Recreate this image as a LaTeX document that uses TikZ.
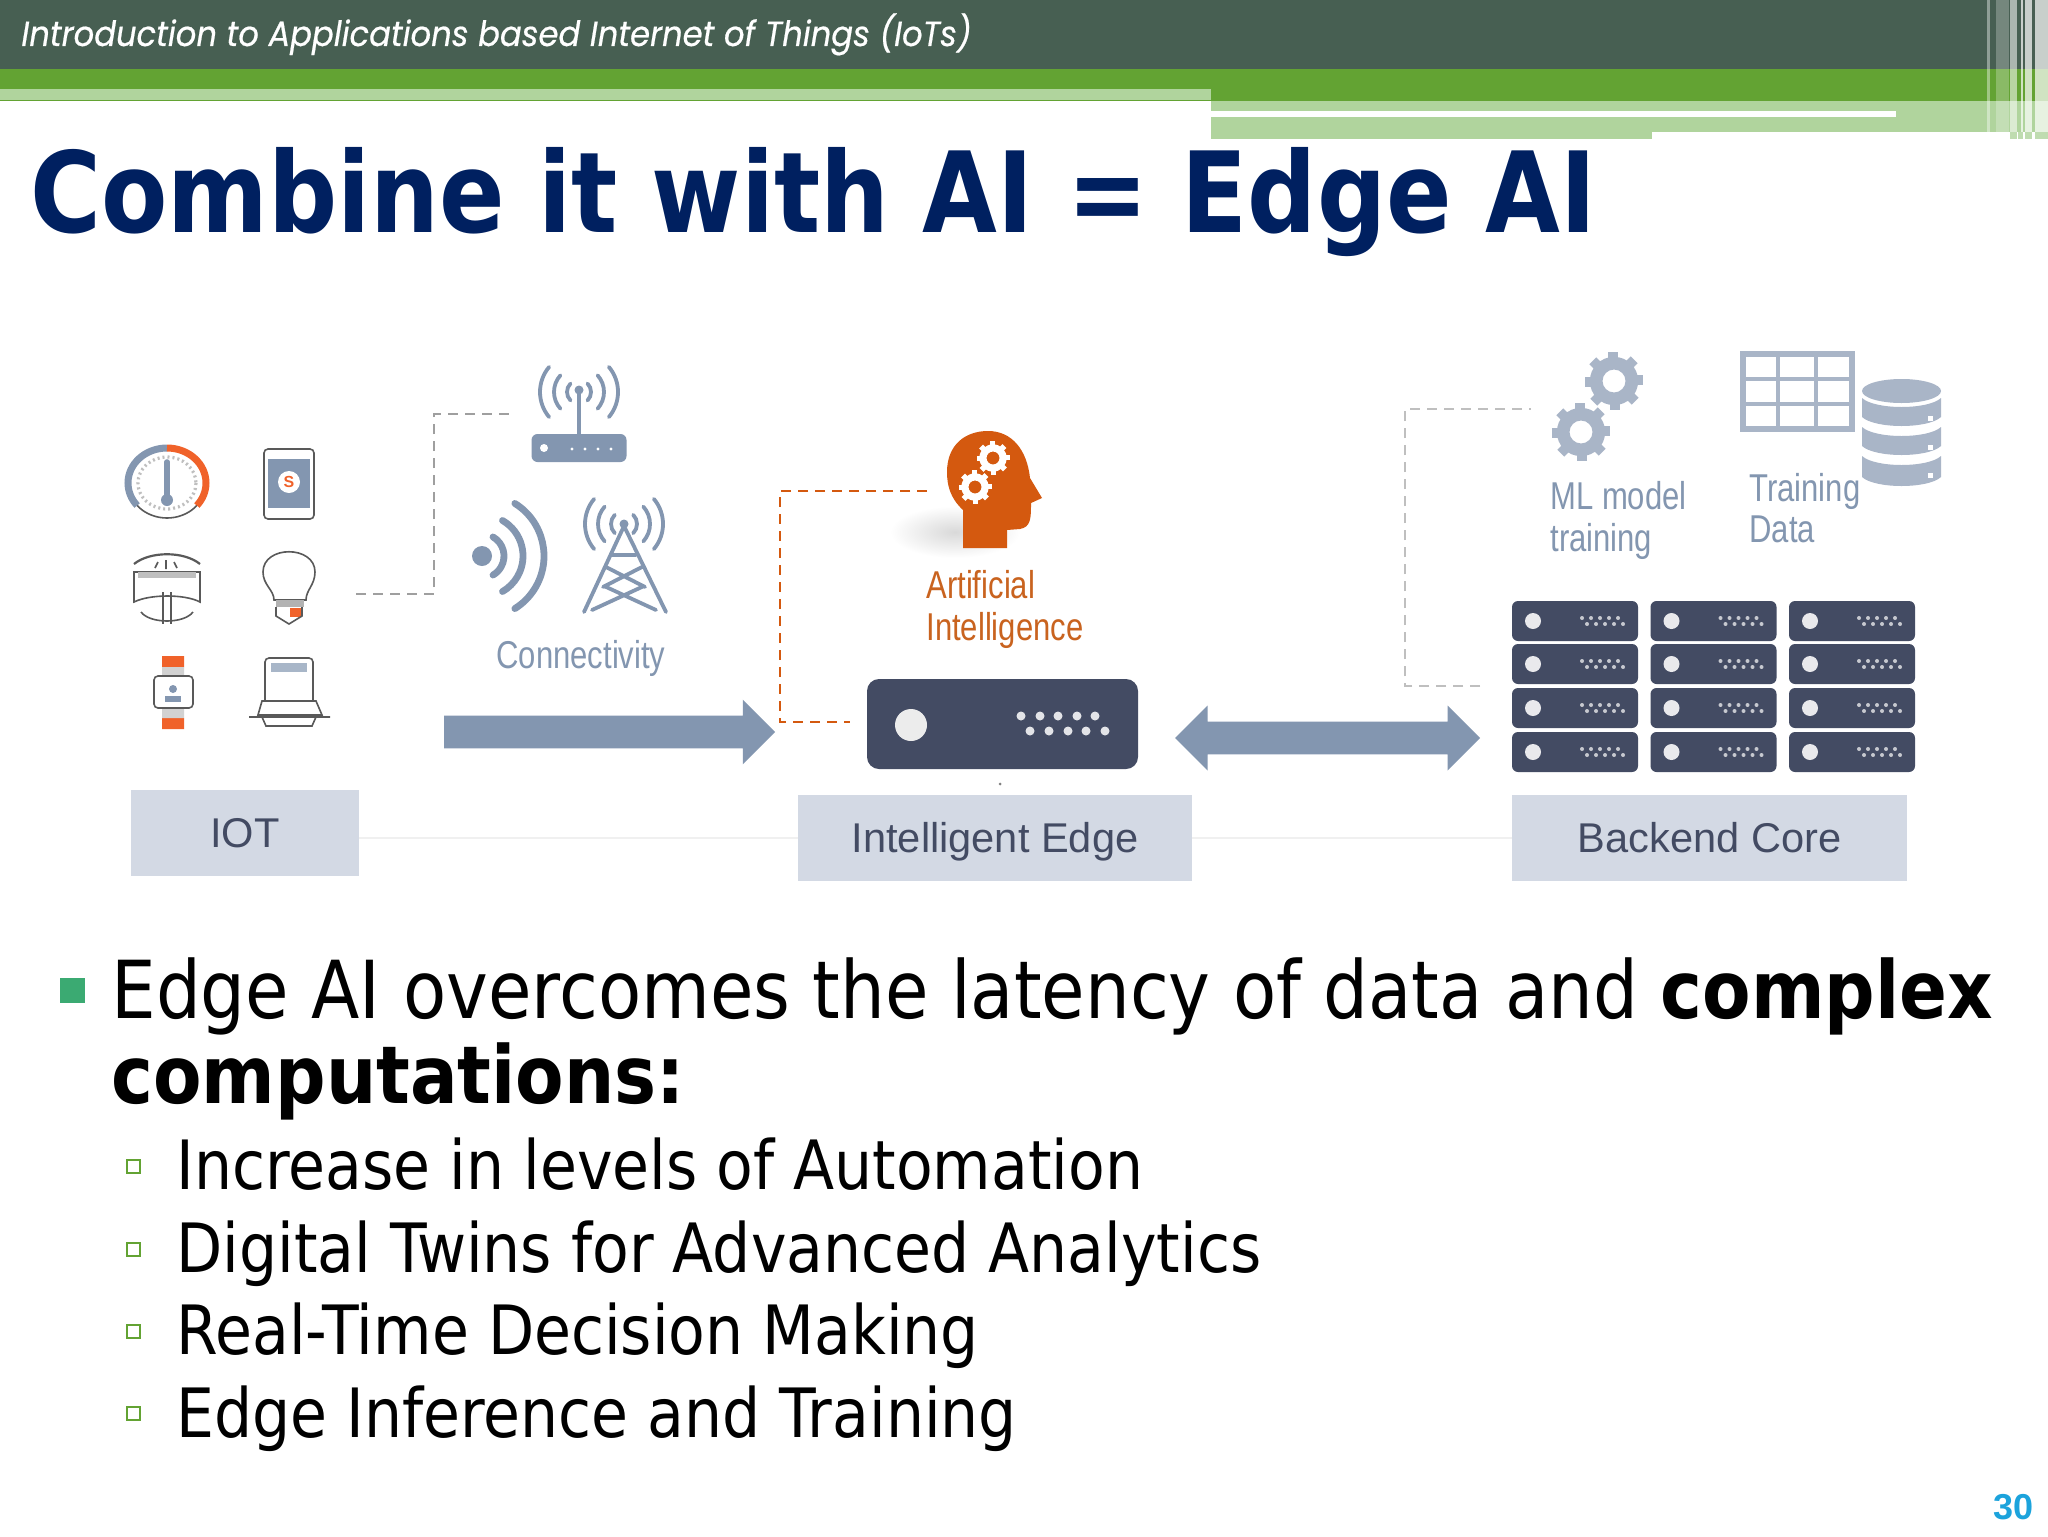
\documentclass[tikz,border=0pt]{standalone}
\usepackage{fontspec}
\setmainfont{Liberation Sans}
\newfontfamily\bodyfont{DejaVu Sans}[FakeStretch=0.883]
\newfontfamily\titlefont{DejaVu Sans}[FakeStretch=0.863]
\newfontfamily\headfont{Poppins}[FakeStretch=0.92,FakeBold=0.5]
\newfontfamily\narrowfont{Liberation Sans}[FakeStretch=0.8]
\usetikzlibrary{positioning, arrows.meta, shapes.arrows}

\definecolor{headdark}{HTML}{475F52}
\definecolor{headgreen}{HTML}{63A333}
\definecolor{headlight}{HTML}{B0D49D}
\definecolor{titleblue}{HTML}{002060}
\definecolor{steel}{HTML}{8396B0}
\definecolor{steellight}{HTML}{A9B5C7}
\definecolor{labelfill}{HTML}{D3D9E4}
\definecolor{slate}{HTML}{434B63}
\definecolor{aiorange}{HTML}{D4590F}
\definecolor{ailabeltext}{HTML}{C9631F}
\definecolor{devorange}{HTML}{F0622A}
\definecolor{bulletgreen}{HTML}{3BAA72}
\definecolor{pageblue}{HTML}{1CA3DC}

\tikzset{
  labelbox/.style={fill=labelfill, draw=none, minimum height=43pt, inner sep=0pt,
    text height=16.5pt, text depth=2pt, text=slate, font=\fontsize{20.8}{20.8}\selectfont},
  dashgrey/.style={draw=gray!75, line width=1pt, dash pattern=on 5pt off 3.5pt},
  dashorange/.style={draw=aiorange, line width=1pt, dash pattern=on 5pt off 3.5pt},
  iconline/.style={draw=steel, line width=1.9pt, line cap=round},
  devline/.style={draw=gray!70!black, line width=0.8pt},
  capsteel/.style={text=steel, font=\narrowfont\fontsize{19.4}{19.4}\selectfont, inner sep=0pt, anchor=base west},
  bigarrow/.style={fill=steel, draw=none, inner xsep=0pt, inner ysep=8pt, anchor=center,
    single arrow head extend=8pt, double arrow head extend=8pt},
  rackunit/.style={fill=slate, draw=none, rounded corners=3pt, minimum width=63pt, minimum height=20pt, inner sep=0pt},
  mainitem/.style={anchor=base west, inner sep=0pt, font=\bodyfont\fontsize{40}{40}\selectfont},
  subitem/.style={anchor=base west, inner sep=0pt, font=\bodyfont\fontsize{34}{34}\selectfont},
  subbullet/.style={draw=headgreen, line width=1pt, minimum size=6.5pt, inner sep=0pt},
}

\newcommand{\cogicon}[4]{% x, y, radius, colour
  \foreach \a in {0,45,...,315}
    \fill[#4] (#1,#2) ++(\a-14:#3) -- ++(\a:#3*0.30) -- ++(\a+90:#3*0.42) -- ++(\a+180:#3*0.30) -- cycle;
  \fill[#4,even odd rule] (#1,#2) circle[radius=#3*1.05] (#1,#2) circle[radius=#3*0.5];
}

\begin{document}
\begin{tikzpicture}[x=0.5pt,y=-0.5pt]
\useasboundingbox (0,0) rectangle (2048,1536);
\fill[white] (0,0) rectangle (2048,1536);

% header
\fill[headdark] (0,0) rectangle (2048,69);
\fill[headgreen] (0,69) rectangle (2048,101);
\fill[headlight] (0,89) rectangle (1211,100);
\fill[headlight] (1211,101) rectangle (2048,132);
\fill[headlight] (1211,132) rectangle (1652,139);
\fill[white] (1211,111) rectangle (1896,117);
\foreach \x/\w/\o in {1987/3/0.4,1996/13/0.25,2010/7/0.55,2021/2/0.7,2025/7/0.7,2035/13/0.7}
  \fill[white,opacity=\o] (\x,0) rectangle ++(\w,132);
\foreach \x/\w in {2010/7,2018/3,2021/2,2025/7,2035/13}
  \fill[headlight,opacity=0.8] (\x,132) rectangle ++(\w,7);

\node[anchor=base west, text=white, inner sep=0pt, font=\headfont\itshape\fontsize{17.5}{17.5}\selectfont] (coursetitle) at (21,46)
  {Introduction to Applications based Internet of Things (IoTs)};
\node[anchor=base west, text=titleblue, inner sep=0pt, font=\titlefont\bfseries\fontsize{56}{56}\selectfont] (slidetitle) at (30,232)
  {Combine it with AI = Edge AI};

% iot devices
\draw[devline] (167,483) ellipse[x radius=39, y radius=35];
\draw[gray!50, line width=1.6pt, dash pattern=on 1pt off 1.5pt] (167,483) ellipse[x radius=29, y radius=26];
\draw[steel,line width=3.5pt] (167,448) arc[start angle=-90,end angle=-220,x radius=39,y radius=35];
\draw[devorange,line width=3.5pt] (167,448) arc[start angle=-90,end angle=40,x radius=39,y radius=35];
\draw[steel,line width=2.8pt,line cap=round] (167,462) -- (167,498);
\fill[steel] (167,500) circle[radius=6];
\node[draw=gray!70!black, line width=0.8pt, fill=white, rounded corners=2pt, minimum width=25pt, minimum height=35pt, inner sep=0pt] (phone) at (289,484) {};
\fill[steel] (268,459) rectangle (310,508);
\node[fill=white, circle, minimum size=11pt, inner sep=0pt, text=devorange, font=\bfseries\fontsize{8}{8}\selectfont] (phonecoin) at (289,482) {S};

\draw[devline] (134,572) -- (200,572) -- (200,602) .. controls (185,594) and (150,594) .. (134,602) -- cycle;
\draw[devline, line width=1.1pt] (134,564) .. controls (150,551) and (184,551) .. (200,564);
\draw[devline] (155,568) -- (158,562) (166,569) -- (166,560) (177,568) -- (174,562);
\fill[gray!50] (138,572) rectangle (196,578);
\draw[devline] (163,592) -- (163,624) (171,592) -- (171,624);
\draw[devline] (141,612) .. controls (150,624) and (184,624) .. (193,612);

\draw[devline] (274,600) .. controls (274,590) and (263,585) .. (263,572)
  .. controls (263,545) and (315,545) .. (315,572)
  .. controls (315,585) and (306,590) .. (306,600) -- cycle;
\fill[gray!60] (276,600) rectangle (304,607);
\fill[devorange] (290,608) rectangle (302,617);
\draw[devline] (276,607) -- (276,616) -- (289,624) -- (302,616) -- (302,607);

\fill[devorange] (162,656) rectangle (184,667) (162,718) rectangle (184,729);
\fill[gray!35] (162,667) rectangle (184,676) (162,708) rectangle (184,718);
\draw[devline, rounded corners=2pt] (154,676) rectangle (193,708);
\fill[steel] (173,689) circle[radius=4];
\fill[steel] (165,696) rectangle (181,702);
\draw[devline, rounded corners=2pt] (265,701) -- (265,658) -- (313,658) -- (313,701);
\fill[steel!70] (271,663) rectangle (307,672);
\draw[devline] (262,701) -- (316,701) -- (322,715) -- (258,715) -- cycle;
\draw[devline] (249,717) -- (330,717) (262,717) -- (266,726) -- (312,726) -- (316,717);

% connectivity
\draw[iconline] (579,392) -- (579,436);
\fill[steel] (579,390) circle[radius=4.5];
\foreach \r/\s in {12/45,25/42,39/40} {
  \draw[iconline] (579,392) ++(-\s:\r) arc[start angle=-\s,end angle=\s,radius=\r];
  \draw[iconline] (579,392) ++(180-\s:\r) arc[start angle=180-\s,end angle=180+\s,radius=\r];
}
\node[fill=steel, rounded corners=3pt, minimum width=47.5pt, minimum height=14pt, inner sep=0pt] (router) at (579,448) {};
\fill[white] (544,448) circle[radius=4];
\foreach \x in {572,585,598,611} \fill[white] (\x,449) circle[radius=1.7];

\fill[steel] (482,556) circle[radius=10];
\foreach \r/\s in {22/60,41/60,62/58}
  \draw[steel, line width=3.4pt, line cap=round] (482,556) ++(-\s:\r) arc[start angle=-\s,end angle=\s,radius=\r];

\draw[iconline,line join=round] (584,612) -- (624,526) -- (666,612);
\draw[iconline] (612,555) -- (636,555) (606,567) -- (645,587) (642,567) -- (603,587)
  (604,586) -- (656,610) (644,586) -- (592,610);
\fill[steel] (624,524) circle[radius=4.5];
\foreach \r/\s in {13/45,26/42,39/40} {
  \draw[iconline] (624,524) ++(-\s:\r) arc[start angle=-\s,end angle=\s,radius=\r];
  \draw[iconline] (624,524) ++(180-\s:\r) arc[start angle=180-\s,end angle=180+\s,radius=\r];
}
\node[capsteel] (connectivity) at (496,668) {Connectivity};

% dashed links
\coordinate (iotout) at (356,594);
\coordinate (routerin) at (515,414);
\draw[dashgrey] (iotout) -| (434,414) -- (routerin);
\coordinate (aiin) at (927,491);
\coordinate (edgeleft) at (850,722);
\draw[dashorange] (aiin) -| (780,722) -- (edgeleft);
\coordinate (coreleft) at (1480,686);
\coordinate (cogin) at (1531,409);
\draw[dashgrey, draw=gray!50] (coreleft) -| (1405,409) -- (cogin);

% big arrows
\node[bigarrow, single arrow, minimum width=32pt, minimum height=165.5pt] (flowone) at (601.5,732) {};
\node[bigarrow, double arrow, minimum width=32.5pt, minimum height=152.5pt] (flowtwo) at (1327.5,738) {};

% ai head
\shade[inner color=gray!30, outer color=white] (955,532) ellipse[x radius=65, y radius=26];
\fill[aiorange] (963,548) -- (963,510) .. controls (950,498) and (947,485) .. (947,472)
  .. controls (947,445) and (965,431) .. (988,431) .. controls (1012,431) and (1027,450) .. (1030,478)
  -- (1042,498) -- (1031,503) .. controls (1031,518) and (1031,527) .. (1020,529) -- (1007,530) -- (1007,548) -- cycle;
\cogicon{993}{458}{13}{white}
\cogicon{975}{487}{13}{white}
\node[capsteel, text=ailabeltext] (ailabelone) at (926,598) {Artificial};
\node[capsteel, text=ailabeltext] (ailabeltwo) at (926,640) {Intelligence};

% edge box
\node[fill=slate, rounded corners=6pt, minimum width=135.5pt, minimum height=45pt, inner sep=0pt] (edgebox) at (1002.5,724) {};
\fill[gray!15] (911,725) ellipse[x radius=16, y radius=16];
\foreach \x in {1021,1040,1058,1077,1095} \fill[white!85!slate] (\x,716) circle[radius=4.5];
\foreach \x in {1030,1049,1068,1086,1105} \fill[white!85!slate] (\x,731) circle[radius=4.5];
\fill[gray] (1000,784) circle[radius=1.5];

% core
\foreach \y in {621,664,708,752}
  \foreach \x in {1575,1713.5,1852} {
    \node[rackunit] at (\x,\y) {};
    \fill[white!88!slate] (\x-42,\y) circle[radius=8];
    \foreach \k in {0,1,2,3,4} {
      \fill[white!70!slate] (\x+7+\k*9,\y-3) circle[radius=2];
      \fill[white!70!slate] (\x+12+\k*9,\y+3) circle[radius=2];
    }
  };

\cogicon{1614}{381}{23}{steellight}
\cogicon{1581}{432}{23}{steellight}
\draw[steellight, line width=3pt] (1743,354) rectangle (1852,429);
\draw[steellight, line width=2pt] (1778,354) -- (1778,429) (1816,354) -- (1816,429)
  (1743,379) -- (1852,379) (1743,404) -- (1852,404);
\fill[steellight] (1901.5,391) ellipse[x radius=39.5, y radius=12];
\foreach \t/\b/\m in {398/417/416,427/446/445,456/477/473} {
  \fill[steellight] (1862,\t) .. controls (1875,\t+12) and (1928,\t+12) .. (1941,\t)
    -- (1941,\b) .. controls (1928,\b+12) and (1875,\b+12) .. (1862,\b) -- cycle;
  \fill[white] (1928,\m) rectangle ++(5,5);
}
\node[capsteel] (mllabelone) at (1550,509) {ML model};
\node[capsteel] (mllabeltwo) at (1550,551) {training};
\node[capsteel] (datalabelone) at (1749,501) {Training};
\node[capsteel] (datalabeltwo) at (1749,542) {Data};

% label boxes
\node[labelbox, minimum width=114pt] (iotbox) at (245,833) {IOT};
\node[labelbox, minimum width=197pt] (edgelabel) at (995,838) {Intelligent Edge};
\node[labelbox, minimum width=197.5pt] (corelabel) at (1709.5,838) {Backend Core};
\draw[gray!12, line width=0.8pt] (iotbox.east |- edgelabel) -- (edgelabel.west) (edgelabel.east) -- (corelabel.west);

% bullets
\node[fill=bulletgreen, minimum size=12.5pt, inner sep=0pt] (mainbullet) at (72.5,990) {};
\node[mainitem] (mainone) at (111,1018) {Edge AI overcomes the latency of data and \textbf{complex}};
\node[mainitem] (maintwo) at (111,1103) {\textbf{computations:}};
\node[subbullet] (subbulletone) at (133,1166) {};
\node[subitem] (subone) at (176,1189) {Increase in levels of Automation};
\node[subbullet] (subbullettwo) at (133,1249) {};
\node[subitem] (subtwo) at (176,1272) {Digital Twins for Advanced Analytics};
\node[subbullet] (subbulletthree) at (133,1331) {};
\node[subitem] (subthree) at (176,1354) {Real-Time Decision Making};
\node[subbullet] (subbulletfour) at (133,1413) {};
\node[subitem] (subfour) at (176,1437) {Edge Inference and Training};

\node[anchor=base east, inner sep=0pt, text=pageblue, font=\bfseries\fontsize{18}{18}\selectfont] (pagenum) at (2034,1519) {30};
\end{tikzpicture}
\end{document}
